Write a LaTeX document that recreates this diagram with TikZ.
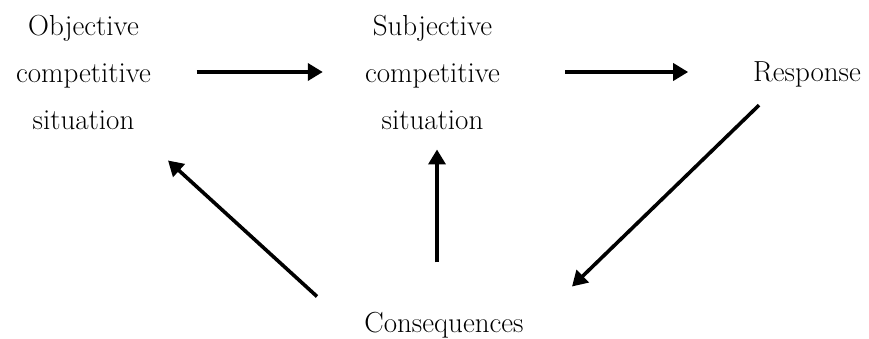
\documentclass[tikz,border=0pt]{standalone}
\usepackage{fontspec}
\usetikzlibrary{arrows.meta,positioning,calc}

\tikzset{
  label text/.style={font=\fontsize{29}{47}\selectfont, align=center},
  arr/.style={line width=3.6pt, -{Triangle[length=15pt,width=17pt]}}
}

\begin{document}
\begin{tikzpicture}[x=1pt,y=1pt]
            \useasboundingbox (0,0) rectangle (869,338);

            % Situation blocks
            \node[label text] (obj) at (83.5,266) {Objective\\competitive\\situation};
            \node[label text] (subj) at (432.5,266) {Subjective\\competitive\\situation};

            % Response and consequences
            \node[label text, anchor=base] (resp) at (807,256) {Response};
            \node[label text, anchor=base] (cons) at (444,6) {Consequences};

            % Forward arrows
            \draw[arr, shorten <=42pt, shorten >=38.7pt] (obj) -- (subj);
            \draw[arr, shorten <=61.7pt, shorten >=61.4pt] (subj.east) -- (subj.east -| resp.west);

            % Feedback arrows
            \draw[arr] ([xshift=-48pt,yshift=-14pt]resp.south) -- ([xshift=128pt,yshift=21.7pt]cons.north);
            \draw[arr] ([xshift=-7pt,yshift=45.7pt]cons.north) -- ([xshift=4.5pt,yshift=-16.7pt]subj.south);
            \draw[arr] ([xshift=-127pt,yshift=11.7pt]cons.north) -- ([xshift=84.5pt,yshift=-27.7pt]obj.south);
        \end{tikzpicture}
\end{document}
